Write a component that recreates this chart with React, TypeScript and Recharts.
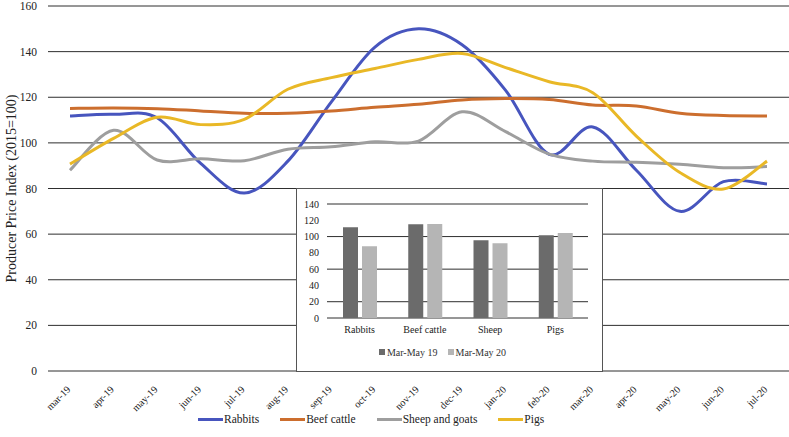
import React from 'react';
import {
  LineChart, Line, XAxis, YAxis, CartesianGrid, Legend,
  BarChart, Bar,
} from 'recharts';

const months = ['mar-19','apr-19','may-19','jun-19','jul-19','aug-19','sep-19','oct-19','nov-19','dec-19','jan-20','feb-20','mar-20','apr-20','may-20','jun-20','jul-20'];
const rabbits = [111.8,112.5,111,91,78,92,118,142,150,143,123,95,107,88,70,83,82];
const beef = [115.1,115.3,115,114,113,113,114,115.6,116.9,118.8,119.4,119,116.6,116.2,113,112,111.8];
const sheep = [88,105.5,92.5,93,92.2,97.2,98.3,100.5,100.8,113.6,104.9,95.1,92,91.5,90.6,89.1,89.6];
const pigs = [90.7,102,111.2,108,110.3,123.5,128.6,132.6,136.6,139.2,133,126.8,122,103,87,79.8,92];
const yTicks = [0,20,40,60,80,100,120,140,160];

const barCats = ['Rabbits','Beef cattle','Sheep','Pigs'];
const period19 = [111.4,115.1,95.5,101.6];
const period20 = [88.2,115.5,91.8,104.5];
const barTicks = [0,20,40,60,80,100,120,140];

const series = [
  { key: 'rabbits', name: 'Rabbits', color: '#4755BE' },
  { key: 'beef', name: 'Beef cattle', color: '#CC6E2E' },
  { key: 'sheep', name: 'Sheep and goats', color: '#9E9E9E' },
  { key: 'pigs', name: 'Pigs', color: '#E9B826' },
];
const barSeries = [
  { key: 'p19', name: 'Mar-May 19', color: '#6B6B6B' },
  { key: 'p20', name: 'Mar-May 20', color: '#B5B5B5' },
];

const lineData = months.map((m, i) => ({
  month: m, rabbits: rabbits[i], beef: beef[i], sheep: sheep[i], pigs: pigs[i],
}));
const barData = barCats.map((c, i) => ({ cat: c, p19: period19[i], p20: period20[i] }));

const FONT = '"Liberation Serif", "Times New Roman", serif';

// Catmull-Rom style smoothing (like spreadsheet "smoothed line")
const smoothCurve: any = (context: any) => {
  let pts: number[][] = [];
  return {
    areaStart() {},
    areaEnd() {},
    lineStart() { pts = []; },
    point(x: number, y: number) { pts.push([+x, +y]); },
    lineEnd() {
      const n = pts.length;
      if (!n) return;
      context.moveTo(pts[0][0], pts[0][1]);
      for (let i = 0; i < n - 1; i++) {
        const p0 = pts[Math.max(i - 1, 0)];
        const p1 = pts[i];
        const p2 = pts[i + 1];
        const p3 = pts[Math.min(i + 2, n - 1)];
        context.bezierCurveTo(
          p1[0] + (p2[0] - p0[0]) / 6, p1[1] + (p2[1] - p0[1]) / 6,
          p2[0] - (p3[0] - p1[0]) / 6, p2[1] - (p3[1] - p1[1]) / 6,
          p2[0], p2[1],
        );
      }
    },
  };
};

const MainLegend = () => (
  <div style={{ height: 20, display: 'flex', alignItems: 'flex-start', paddingLeft: 198, fontFamily: FONT, fontSize: 11.5, color: '#222' }}>
    {series.map((s) => (
      <div key={s.key} style={{ display: 'flex', alignItems: 'center', marginRight: 21, height: 16 }}>
        <span style={{ display: 'inline-block', width: 25, height: 3, background: s.color, marginRight: 1 }} />
        <span>{s.name}</span>
      </div>
    ))}
  </div>
);

const BarLegend = () => (
  <div style={{ height: 20, display: 'flex', justifyContent: 'center', alignItems: 'center', fontFamily: FONT, fontSize: 10, color: '#333' }}>
    {barSeries.map((s) => (
      <div key={s.key} style={{ display: 'flex', alignItems: 'center', margin: '0 5px' }}>
        <span style={{ display: 'inline-block', width: 6, height: 6, background: s.color, marginRight: 2 }} />
        <span>{s.name}</span>
      </div>
    ))}
  </div>
);

export default function App() {
  return (
    <div style={{ position: 'relative', width: 789, height: 437, background: '#fff', fontFamily: FONT }}>
      <style>{`body{margin:0;}`}</style>
      <LineChart width={789} height={437} data={lineData} margin={{ top: 6, right: 0, left: 0, bottom: 6 }}>
        <CartesianGrid vertical={false} stroke="#2e2e2e" strokeWidth={1} />
        <XAxis
          dataKey="month"
          interval={0}
          padding={{ left: 22, right: 22 }}
          axisLine={false}
          tickLine={false}
          height={40}
          tickMargin={8}
          angle={-45}
          textAnchor="end"
          tick={{ fontSize: 10.2, fill: '#222', fontFamily: FONT, dx: -4 }}
        />
        <YAxis
          width={48}
          domain={[0, 160]}
          ticks={yTicks}
          axisLine={false}
          tickLine={false}
          tickMargin={5}
          tick={{ fontSize: 11.5, fill: '#222', fontFamily: FONT }}
          label={{ value: 'Producer Price Index (2015=100)', angle: -90, position: 'insideLeft', offset: 11, style: { textAnchor: 'middle', fontSize: 14, fill: '#222', fontFamily: FONT } }}
        />
        <Legend verticalAlign="bottom" content={<MainLegend />} />
        {series.map((s) => (
          <Line key={s.key} dataKey={s.key} name={s.name} stroke={s.color} strokeWidth={3} dot={false} activeDot={false} type={smoothCurve} isAnimationActive={false} />
        ))}
      </LineChart>
      <div style={{ position: 'absolute', left: 296, top: 188, width: 305, height: 182, border: '1px solid #555', background: '#fff' }}>
        <BarChart width={305} height={182} data={barData} margin={{ top: 15, right: 14, left: 0, bottom: 9 }} barSize={15} barGap={4}>
          <CartesianGrid vertical={false} stroke="#2e2e2e" strokeWidth={1} />
          <XAxis dataKey="cat" axisLine={false} tickLine={false} height={24} interval={0} tick={{ fontSize: 10, fill: '#222', fontFamily: FONT }} />
          <YAxis width={30} domain={[0, 140]} ticks={barTicks} axisLine={false} tickLine={false} tick={{ fontSize: 10, fill: '#222', fontFamily: FONT }} />
          <Legend verticalAlign="bottom" content={<BarLegend />} />
          {barSeries.map((s) => (
            <Bar key={s.key} dataKey={s.key} name={s.name} fill={s.color} isAnimationActive={false} />
          ))}
        </BarChart>
      </div>
    </div>
  );
}
